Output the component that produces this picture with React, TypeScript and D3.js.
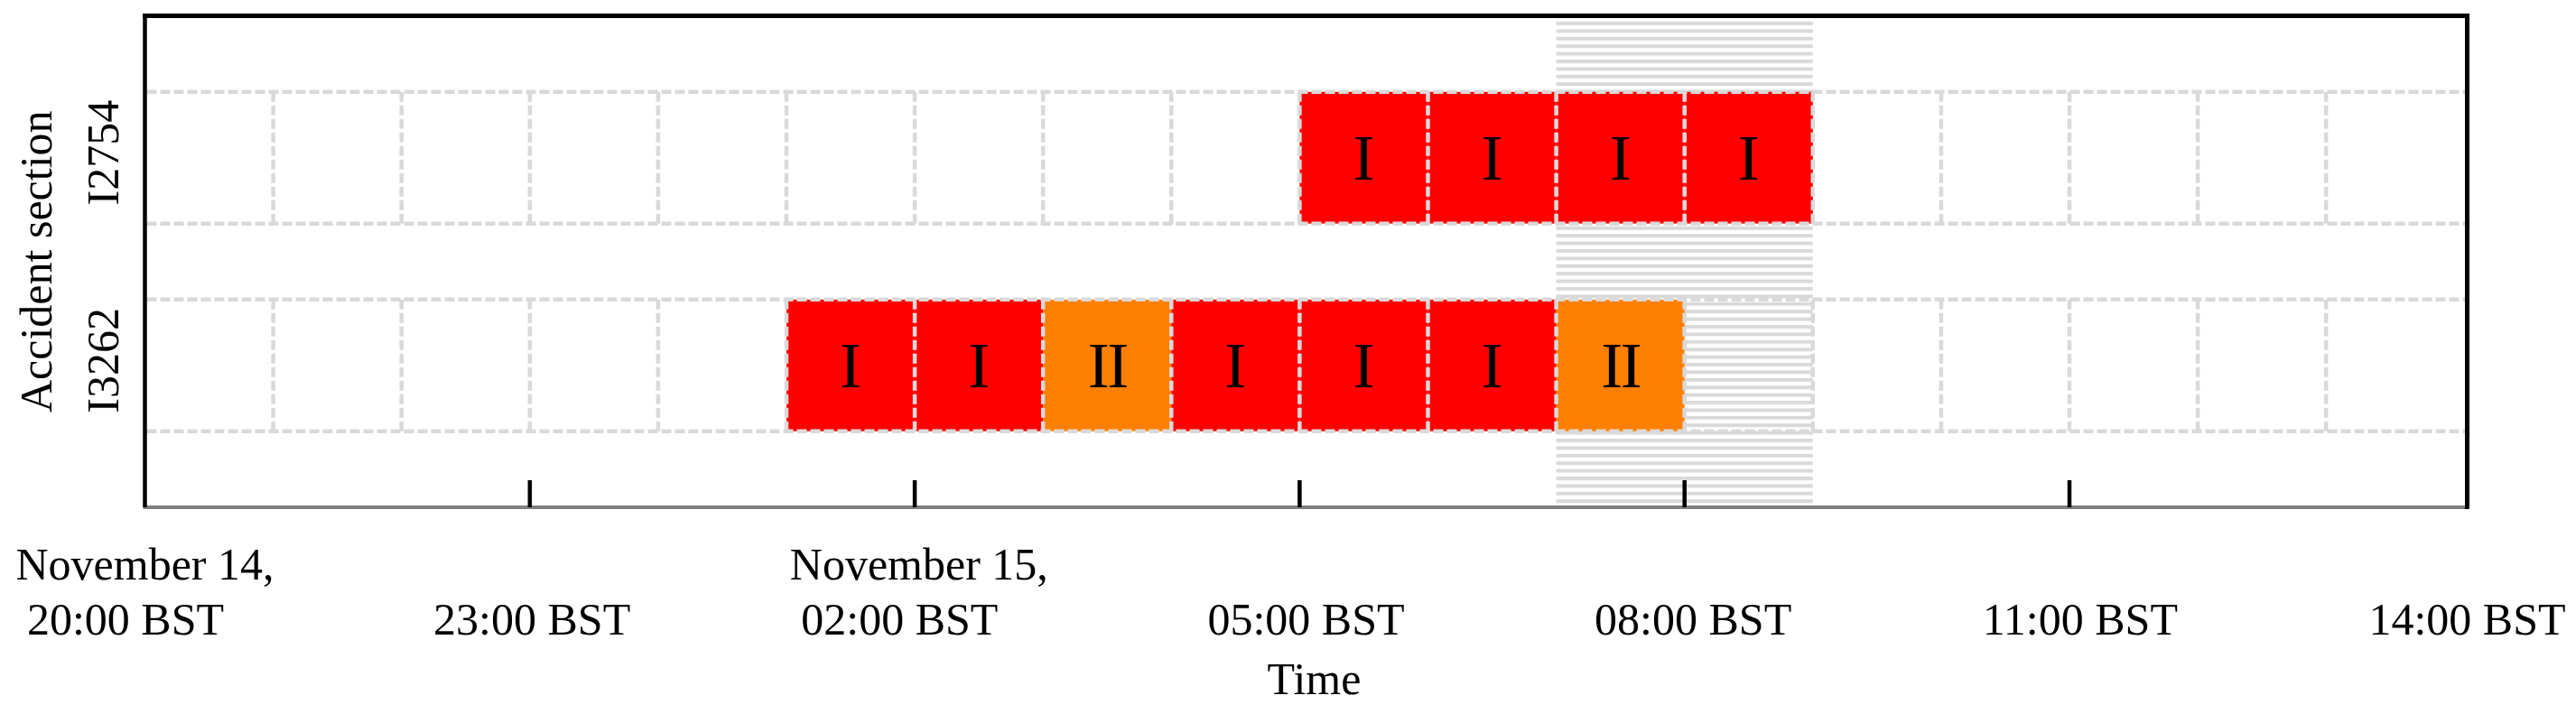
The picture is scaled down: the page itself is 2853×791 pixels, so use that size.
import React, { useEffect, useRef } from "react";
import * as d3 from "d3";

// ---------- data ----------
const sections = ["I2754", "I3262"];
const timeStart = "2020-11-14 20:00";
const timeEnd = "2020-11-15 14:06";
// hourly cells starting at 20:00 (Nov 14) up to 13:00 (Nov 15)
const cellHours = [
  "20:00", "21:00", "22:00", "23:00", "00:00", "01:00", "02:00", "03:00", "04:00",
  "05:00", "06:00", "07:00", "08:00", "09:00", "10:00", "11:00", "12:00", "13:00",
];
const levelsI2754 = ["", "", "", "", "", "", "", "", "", "I", "I", "I", "I", "", "", "", "", ""];
const levelsI3262 = ["", "", "", "", "", "I", "I", "II", "I", "I", "I", "II", "", "", "", "", "", ""];
const levelColors: Record<string, string> = { I: "#ff0000", II: "#ff8000" };
const tickLabels = [
  ["November 14,", " 20:00 BST"],
  ["23:00 BST"],
  ["November 15,", " 02:00 BST"],
  ["05:00 BST"],
  ["08:00 BST"],
  ["11:00 BST"],
  ["14:00 BST"],
];
const shadedWindow = ["2020-11-15 07:00", "2020-11-15 09:00"];
const yTitle = "Accident section";
const xTitle = "Time";

const W = 2853;
const H = 791;
const FONT = "'Liberation Serif', 'Times New Roman', serif";
const GRID = "#d9d9d9";

export default function App() {
  const ref = useRef<SVGSVGElement | null>(null);

  useEffect(() => {
    const svg = d3.select(ref.current);
    svg.selectAll("*").remove();

    const parse = d3.timeParse("%Y-%m-%d %H:%M");
    const t0 = parse(timeStart) as Date;
    const t1 = parse(timeEnd) as Date;

    const left = 160.5, right = 2732.5, top = 17.5, bottom = 562;

    const x = d3.scaleTime().domain([t0, t1]).range([left, right]);
    const y = d3.scaleBand<string>().domain(sections).range([top, bottom]).padding(0.366);
    const labelX = d3.scalePoint<number>().domain(d3.range(tickLabels.length)).range([left, right]);

    const levels: Record<string, string[]> = { I2754: levelsI2754, I3262: levelsI3262 };

    const defs = svg.append("defs");
    const pat = defs.append("pattern")
      .attr("id", "hatch")
      .attr("patternUnits", "userSpaceOnUse")
      .attr("x", 0).attr("y", 24)
      .attr("width", 10).attr("height", 8.4);
    pat.append("rect").attr("x", 0).attr("y", 0).attr("width", 10).attr("height", 4).attr("fill", GRID);

    // shaded window
    const s0 = parse(shadedWindow[0]) as Date;
    const s1 = parse(shadedWindow[1]) as Date;
    svg.append("rect")
      .attr("x", x(s0)).attr("y", 21)
      .attr("width", x(s1) - x(s0)).attr("height", 560 - 21)
      .attr("fill", "url(#hatch)");

    const cellStart = (i: number) => d3.timeHour.offset(t0, i);
    const cellEnd = (i: number) => (i === cellHours.length - 1 ? t1 : d3.timeHour.offset(t0, i + 1));

    // cell fills
    sections.forEach((sec) => {
      const g = svg.append("g");
      g.selectAll("rect")
        .data(levels[sec].map((lv, i) => ({ lv, i })).filter((d) => d.lv))
        .join("rect")
        .attr("x", (d) => x(cellStart(d.i)))
        .attr("y", y(sec)!)
        .attr("width", (d) => x(cellEnd(d.i)) - x(cellStart(d.i)))
        .attr("height", y.bandwidth())
        .attr("fill", (d) => levelColors[d.lv]);
    });

    // grid lines (dashed)
    const grid = svg.append("g")
      .attr("stroke", GRID).attr("stroke-width", 4.5)
      .attr("stroke-dasharray", "11,4").attr("fill", "none");
    sections.forEach((sec) => {
      const yt = y(sec)!;
      const yb = yt + y.bandwidth();
      [yt, yb].forEach((yy) => {
        grid.append("line").attr("x1", left + 2).attr("x2", right).attr("y1", yy).attr("y2", yy);
      });
      d3.range(1, cellHours.length).forEach((i) => {
        const xx = x(cellStart(i));
        grid.append("line").attr("x1", xx).attr("x2", xx).attr("y1", yt).attr("y2", yb);
      });
    });

    // level labels
    sections.forEach((sec) => {
      const cy = y(sec)! + y.bandwidth() / 2;
      svg.append("g").selectAll("text")
        .data(levels[sec].map((lv, i) => ({ lv, i })).filter((d) => d.lv))
        .join("text")
        .attr("x", (d) => (x(cellStart(d.i)) + x(cellEnd(d.i))) / 2)
        .attr("y", cy + 72 * 0.331)
        .attr("text-anchor", "middle")
        .attr("font-family", FONT)
        .attr("font-size", 72)
        .attr("letter-spacing", (d) => (d.lv.length > 1 ? -2.5 : 0))
        .attr("fill", "#000")
        .text((d) => d.lv);
    });

    // axis line (bottom, gray)
    svg.append("line")
      .attr("x1", left - 2).attr("x2", right + 2)
      .attr("y1", bottom).attr("y2", bottom)
      .attr("stroke", "#808080").attr("stroke-width", 4);

    // ticks
    const ticks = d3.timeHour.range(t0, t1, 3);
    svg.append("g").selectAll("line")
      .data(ticks.slice(1, ticks.length - 1))
      .join("line")
      .attr("x1", (d) => x(d)).attr("x2", (d) => x(d))
      .attr("y1", bottom - 30).attr("y2", bottom)
      .attr("stroke", "#000").attr("stroke-width", 4.5);

    // frame: top, left, right (black)
    svg.append("line").attr("x1", left - 2.25).attr("x2", right + 2.5)
      .attr("y1", top).attr("y2", top).attr("stroke", "#000").attr("stroke-width", 5);
    svg.append("line").attr("x1", left).attr("x2", left)
      .attr("y1", top - 2.5).attr("y2", bottom).attr("stroke", "#000").attr("stroke-width", 4.5);
    svg.append("line").attr("x1", right).attr("x2", right)
      .attr("y1", top - 2.5).attr("y2", bottom + 2).attr("stroke", "#000").attr("stroke-width", 5);

    // x tick labels
    const lab = svg.append("g").attr("font-family", FONT).attr("font-size", 50).attr("fill", "#000");
    tickLabels.forEach((lines, k) => {
      const cx = labelX(k)!;
      if (lines.length === 1) {
        lab.append("text").attr("x", cx).attr("y", 703.3)
          .attr("text-anchor", "middle").style("white-space", "pre").text(lines[0]);
      } else {
        const t1el = lab.append("text").attr("x", cx).attr("y", 642.3)
          .attr("text-anchor", "middle").style("white-space", "pre").text(lines[0]);
        const w = (t1el.node() as SVGTextElement).getComputedTextLength();
        lab.append("text").attr("x", cx - w / 2).attr("y", 703.3)
          .attr("text-anchor", "start").style("white-space", "pre").text(lines[1]);
      }
    });

    // x title
    svg.append("text").attr("x", (left + right) / 2 + 9).attr("y", 769)
      .attr("text-anchor", "middle").attr("font-family", FONT).attr("font-size", 50)
      .text(xTitle);

    // y tick labels
    sections.forEach((sec) => {
      const cy = y(sec)! + y.bandwidth() / 2 - 5.5;
      svg.append("text")
        .attr("transform", `translate(131,${cy}) rotate(-90)`)
        .attr("text-anchor", "middle").attr("font-family", FONT).attr("font-size", 50)
        .text(sec);
    });

    // y title
    svg.append("text")
      .attr("transform", `translate(57.4,${(top + bottom) / 2}) rotate(-90)`)
      .attr("text-anchor", "middle").attr("font-family", FONT).attr("font-size", 50)
      .text(yTitle);
  }, []);

  return (
    <svg
      ref={ref}
      width={W}
      height={H}
      style={{ position: "absolute", left: 0, top: 0, display: "block", background: "#fff" }}
    />
  );
}
